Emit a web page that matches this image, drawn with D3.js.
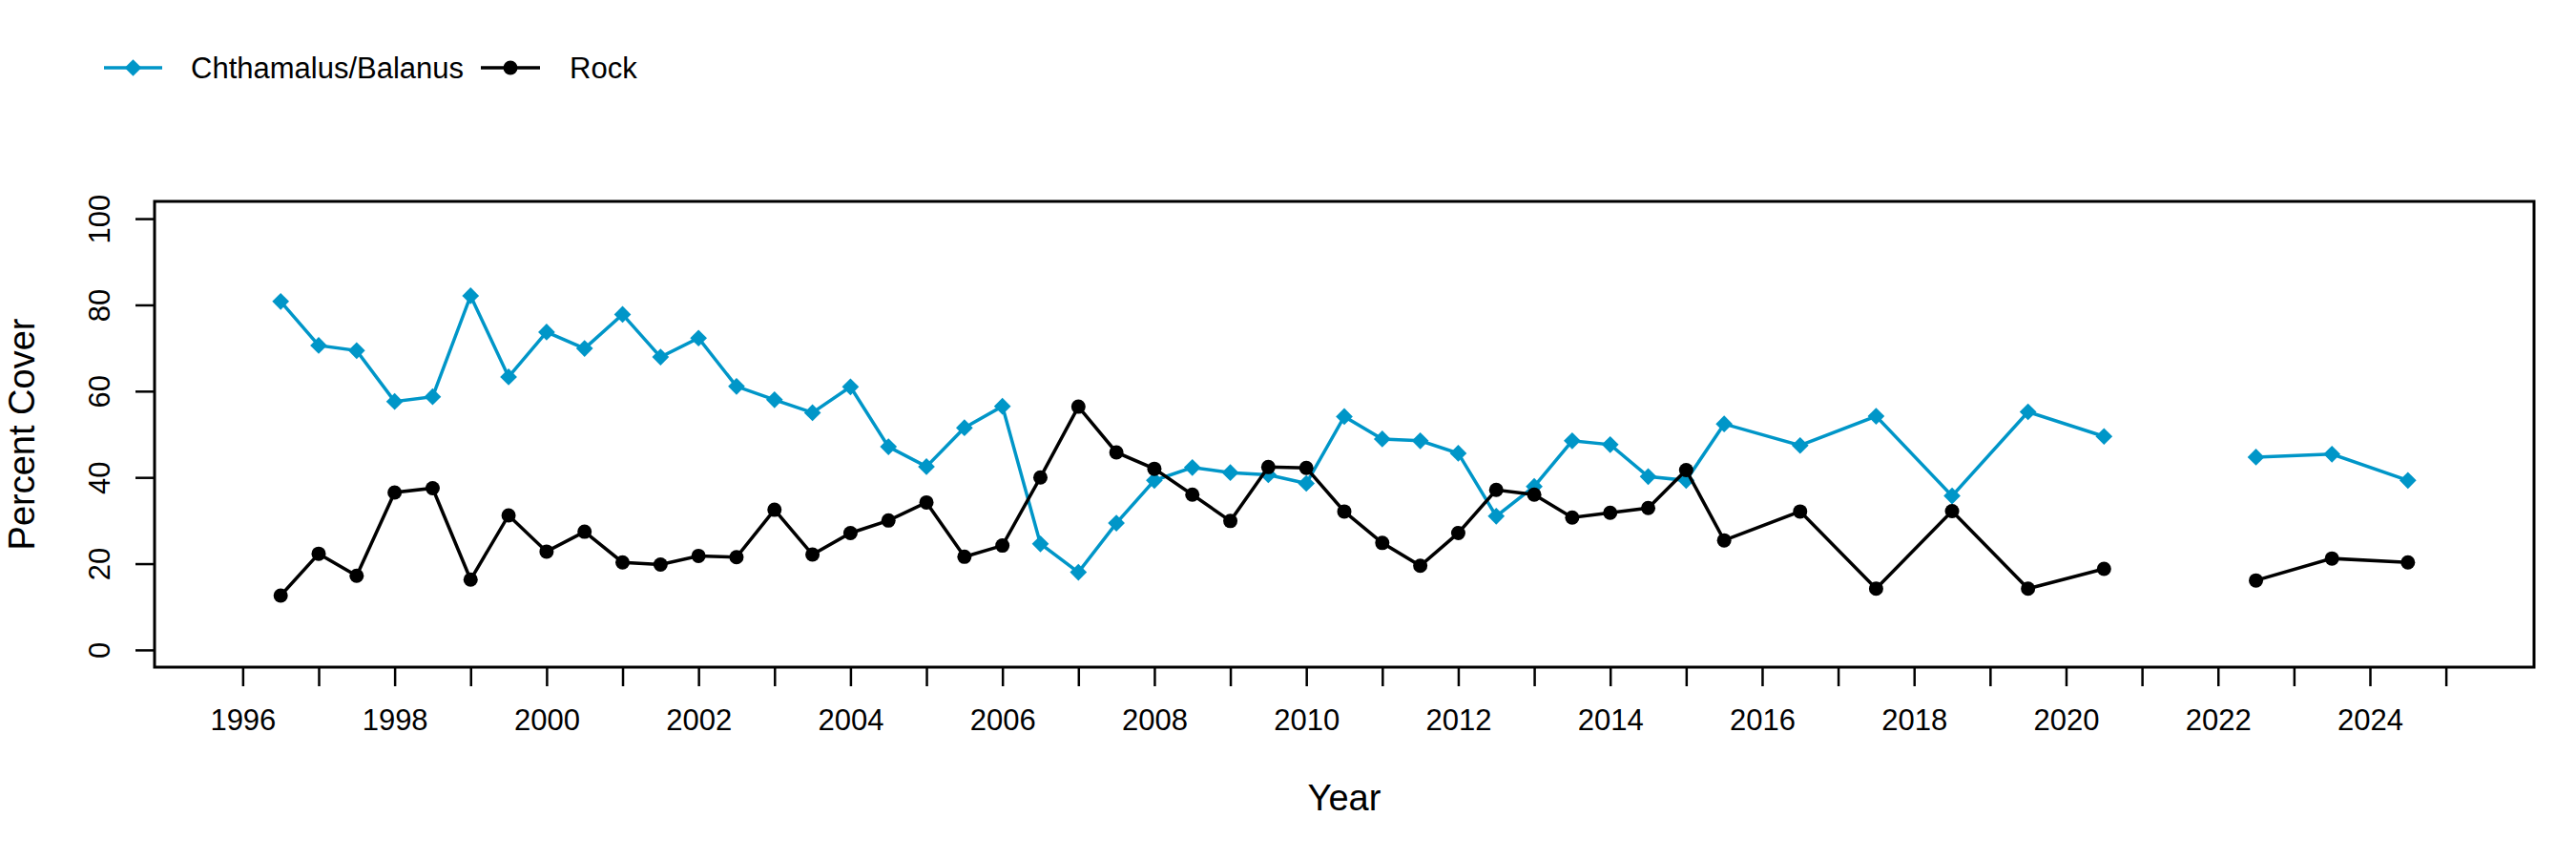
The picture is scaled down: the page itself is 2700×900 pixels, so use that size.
<!DOCTYPE html>
<html>
<head>
<meta charset="utf-8">
<script src="https://cdn.jsdelivr.net/npm/d3@7"></script>
<style>
  body { margin: 0; background: #fff; }
  svg { font-family: "Liberation Sans", Arial, sans-serif; }
</style>
</head>
<body>
<svg width="2700" height="900"></svg>
<script>
// survey years (half-year steps, gap at 2021.5)
var years = [1996.5, 1997, 1997.5, 1998, 1998.5, 1999, 1999.5, 2000, 2000.5, 2001,
             2001.5, 2002, 2002.5, 2003, 2003.5, 2004, 2004.5, 2005, 2005.5, 2006,
             2006.5, 2007, 2007.5, 2008, 2008.5, 2009, 2009.5, 2010, 2010.5, 2011,
             2011.5, 2012, 2012.5, 2013, 2013.5, 2014, 2014.5, 2015, 2015.5,
             2016.5, 2017.5, 2018.5, 2019.5, 2020.5, 2021.5, 2022.5, 2023.5, 2024.5];

var barnacles = [80.8, 70.6, 69.4, 57.6, 58.7, 82.1, 63.3, 73.7, 69.9, 77.8,
                 67.9, 72.3, 61.1, 58.0, 55.0, 61.0, 47.1, 42.5, 51.5, 56.5,
                 24.6, 18.0, 29.4, 39.3, 42.3, 41.1, 40.6, 38.6, 54.1, 48.9,
                 48.5, 45.6, 31.0, 37.9, 48.5, 47.6, 40.2, 39.3, 52.4,
                 47.4, 54.2, 35.7, 55.2, 49.5, null, 44.7, 45.4, 39.3];

var rock = [12.6, 22.3, 17.2, 36.5, 37.5, 16.3, 31.2, 22.8, 27.4, 20.3,
            19.8, 21.8, 21.5, 32.5, 22.1, 27.1, 30.0, 34.2, 21.6, 24.2,
            40.0, 56.4, 45.8, 42.0, 36.0, 29.9, 42.4, 42.2, 32.1, 24.8,
            19.5, 27.1, 37.1, 36.0, 30.7, 31.8, 32.9, 41.7, 25.4,
            32.1, 14.2, 32.2, 14.2, 18.8, null, 16.1, 21.2, 20.3];

var xTicks = d3.range(1996, 2026);
var yTicks = [0, 20, 40, 60, 80, 100];
var seriesNames = ["Chthamalus/Balanus", "Rock"];

var blue = "#0096c8";

var box = {left: 162, right: 2656, top: 211, bottom: 699};

var svg = d3.select("svg");

var x = d3.scaleLinear().domain([1994.84, 2026.16]).range([box.left, box.right]);
var y = d3.scaleLinear().domain([-4, 104]).range([box.bottom, box.top]);

// x axis
var xAxis = svg.append("g")
    .attr("transform", "translate(0," + box.bottom + ")")
    .call(d3.axisBottom(x)
        .tickValues(xTicks)
        .tickSize(20)
        .tickFormat(function(d) { return (d % 2 === 0 && d < 2025) ? d : ""; }));
xAxis.select(".domain").remove();
xAxis.selectAll(".tick line").attr("stroke", "#000").attr("stroke-width", 2.5);
xAxis.selectAll(".tick text")
    .attr("y", 0).attr("dy", 0)
    .attr("transform", "translate(0,66)")
    .style("font-size", "31px")
    .attr("fill", "#000");

// y axis
var yAxis = svg.append("g")
    .attr("transform", "translate(" + box.left + ",0)")
    .call(d3.axisLeft(y).tickValues(yTicks).tickSize(20));
yAxis.select(".domain").remove();
yAxis.selectAll(".tick line").attr("stroke", "#000").attr("stroke-width", 2.5);
yAxis.selectAll(".tick text")
    .attr("x", 0).attr("dy", 0)
    .attr("transform", "translate(-47,0) rotate(-90)")
    .attr("text-anchor", "middle")
    .style("font-size", "31px")
    .attr("fill", "#000");

// plot box
svg.append("rect")
    .attr("x", box.left).attr("y", box.top)
    .attr("width", box.right - box.left).attr("height", box.bottom - box.top)
    .attr("fill", "none").attr("stroke", "#000").attr("stroke-width", 3);

// axis titles
svg.append("text")
    .attr("x", (box.left + box.right) / 2).attr("y", 849)
    .attr("text-anchor", "middle")
    .style("font-size", "38px")
    .text("Year");
svg.append("text")
    .attr("transform", "translate(36," + ((box.top + box.bottom) / 2) + ") rotate(-90)")
    .attr("text-anchor", "middle")
    .style("font-size", "38px")
    .text("Percent Cover");

function pts(vals) {
    return years.map(function(d, i) { return {year: d, v: vals[i]}; });
}

var line = d3.line()
    .defined(function(d) { return d.v !== null; })
    .x(function(d) { return x(d.year); })
    .y(function(d) { return y(d.v); });

var diamond = d3.symbol().type(d3.symbolDiamond2).size(200);

// barnacle series
var bData = pts(barnacles);
svg.append("path").datum(bData)
    .attr("d", line).attr("fill", "none")
    .attr("stroke", blue).attr("stroke-width", 3.5);
svg.selectAll(".bpt").data(bData.filter(function(d) { return d.v !== null; }))
    .enter().append("path")
    .attr("class", "bpt")
    .attr("d", diamond)
    .attr("transform", function(d) { return "translate(" + x(d.year) + "," + y(d.v) + ")"; })
    .attr("fill", blue);

// rock series
var rData = pts(rock);
svg.append("path").datum(rData)
    .attr("d", line).attr("fill", "none")
    .attr("stroke", "#000").attr("stroke-width", 3.5);
svg.selectAll(".rpt").data(rData.filter(function(d) { return d.v !== null; }))
    .enter().append("circle")
    .attr("class", "rpt")
    .attr("cx", function(d) { return x(d.year); })
    .attr("cy", function(d) { return y(d.v); })
    .attr("r", 7.5)
    .attr("fill", "#000");

// legend
var legY = 71;
var leg = [
    {name: seriesNames[0], color: blue, x0: 109, x1: 170, text: 200, shape: "diamond"},
    {name: seriesNames[1], color: "#000", x0: 504, x1: 566, text: 597, shape: "circle"}
];
leg.forEach(function(l) {
    svg.append("line")
        .attr("x1", l.x0).attr("x2", l.x1).attr("y1", legY).attr("y2", legY)
        .attr("stroke", l.color).attr("stroke-width", 3.5);
    var cx = (l.x0 + l.x1) / 2;
    if (l.shape === "diamond") {
        svg.append("path").attr("d", diamond)
            .attr("transform", "translate(" + cx + "," + legY + ")")
            .attr("fill", l.color);
    } else {
        svg.append("circle").attr("cx", cx).attr("cy", legY).attr("r", 7.5).attr("fill", l.color);
    }
    svg.append("text")
        .attr("x", l.text).attr("y", legY + 11)
        .style("font-size", "31px")
        .text(l.name);
});
</script>
</body>
</html>
